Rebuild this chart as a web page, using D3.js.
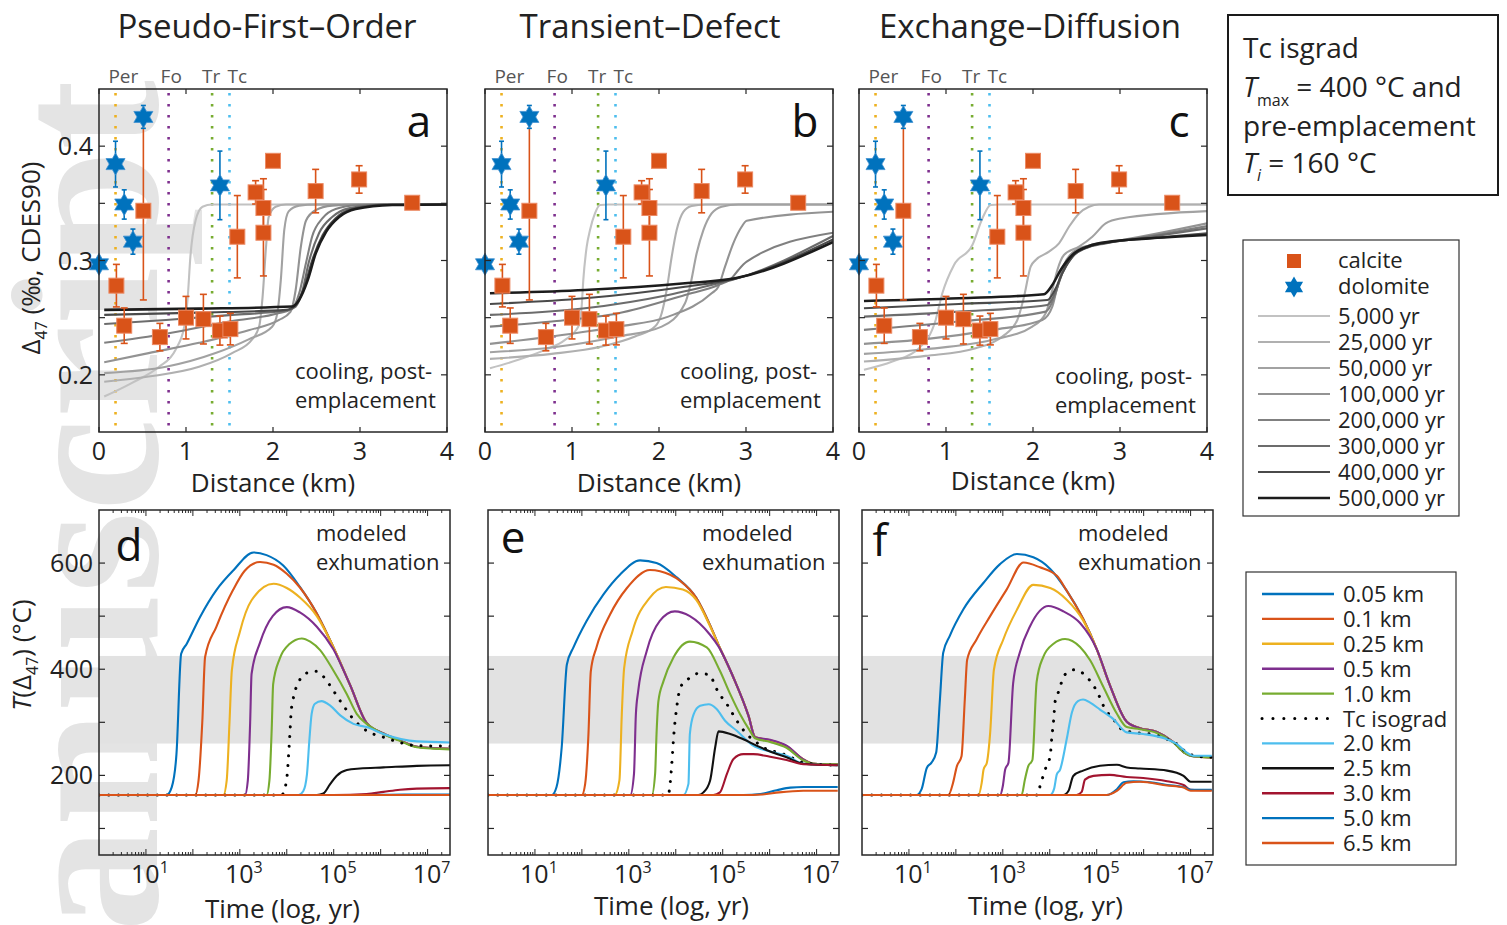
<!DOCTYPE html>
<html><head><meta charset="utf-8">
<script src="https://cdn.jsdelivr.net/npm/d3@7/dist/d3.min.js"></script>
<style>
body{margin:0;background:#fff}
svg{display:block}
text{font-family:"Open Sans","Noto Sans",sans-serif;fill:#222}
</style></head><body>
<svg id="chart" width="1507" height="925"></svg>
<script>
// ---------------- DATA ----------------
const panelTitles = ["Pseudo-First\u2013Order","Transient\u2013Defect","Exchange\u2013Diffusion"];
const topLetters = ["a","b","c"];
const bottomLetters = ["d","e","f"];
const mineralNames = ["Per","Fo","Tr","Tc"];
const mineralKm = [0.19,0.80,1.30,1.50];
const mineralLabelKm = [0.28,0.83,1.29,1.59];
const mineralColors = ["#EDB120","#7E2F8E","#77AC30","#4DBEEE"];

const calciteKm  = [0.20,0.29,0.51,0.70,1.00,1.20,1.39,1.51,1.59,1.80,1.89,1.89,2.00,2.49,2.99,3.60];
const calciteD47 = [0.278,0.243,0.3435,0.233,0.250,0.2487,0.2387,0.240,0.3208,0.3596,0.3459,0.3243,0.3872,0.3607,0.3709,0.3505];
const calciteErr = [0.0186,0.0155,0.078,0.012,0.0186,0.0217,0.0127,0.0138,0.036,0.0102,0.0256,0.0378,0,0.019,0.012,0];
const dolomiteKm  = [0.00,0.19,0.29,0.39,0.51,1.39];
const dolomiteD47 = [0.2967,0.3843,0.349,0.3165,0.4256,0.3657];
const dolomiteErr = [0,0.020,0.0128,0.011,0.010,0.030];

const timeLabels = ["5,000 yr","25,000 yr","50,000 yr","100,000 yr","200,000 yr","300,000 yr","400,000 yr","500,000 yr"];
const timeColors = ["#c2c2c2","#b0b0b0","#a2a2a2","#939393","#808080","#6c6c6c","#4a4a4a","#1c1c1c"];

// [distance km, Δ47] per time, panel a (pseudo-first-order)
const pfoCurves = [
 [[0.06,0.181],[0.38,0.193],[0.69,0.207],[0.88,0.222],[0.98,0.242],[1.02,0.268],[1.05,0.303],[1.11,0.335],[1.19,0.347],[1.30,0.349],[4,0.349]],
 [[0.06,0.194],[0.57,0.1985],[1.15,0.207],[1.53,0.219],[1.76,0.231],[1.84,0.242],[1.88,0.268],[1.92,0.312],[1.95,0.338],[2.03,0.347],[2.15,0.349],[4,0.349]],
 [[0.06,0.2015],[0.77,0.207],[1.34,0.219],[1.72,0.231],[1.99,0.242],[2.05,0.254],[2.09,0.283],[2.13,0.327],[2.18,0.343],[2.30,0.348],[2.49,0.349],[4,0.349]],
 [[0.06,0.211],[0.57,0.219],[1.15,0.228],[1.72,0.239],[2.07,0.248],[2.20,0.255],[2.26,0.274],[2.32,0.312],[2.38,0.335],[2.49,0.344],[2.68,0.348],[2.99,0.349],[4,0.349]],
 [[0.06,0.228],[0.77,0.236],[1.53,0.247],[2.07,0.254],[2.22,0.258],[2.30,0.271],[2.38,0.298],[2.45,0.321],[2.57,0.337],[2.72,0.345],[2.99,0.3485],[3.26,0.349],[4,0.349]],
 [[0.06,0.2445],[0.77,0.248],[1.53,0.2524],[2.15,0.2562],[2.26,0.2597],[2.34,0.274],[2.41,0.298],[2.53,0.324],[2.68,0.338],[2.87,0.3456],[3.26,0.3488],[4,0.349]],
 [[0.06,0.2524],[1.15,0.2544],[2.15,0.2568],[2.26,0.2611],[2.36,0.277],[2.45,0.300],[2.57,0.322],[2.72,0.337],[2.91,0.345],[3.30,0.3488],[4,0.349]],
 [[0.06,0.2568],[1.15,0.2579],[2.22,0.2597],[2.30,0.2655],[2.40,0.283],[2.49,0.306],[2.61,0.325],[2.76,0.338],[2.95,0.345],[3.37,0.3485],[4,0.349]]
];
// panel b (transient-defect)
const tdCurves = [
 [[0.057,0.2058],[0.383,0.2131],[0.69,0.2218],[0.92,0.2306],[1.073,0.2422],[1.111,0.2597],[1.13,0.283],[1.169,0.3121],[1.207,0.3266],[1.264,0.3412],[1.322,0.3485],[1.418,0.349],[4,0.349]],
 [[0.057,0.214],[0.766,0.2183],[1.341,0.2247],[1.724,0.2335],[1.954,0.2422],[2.031,0.2539],[2.088,0.2742],[2.146,0.3033],[2.203,0.3266],[2.28,0.3426],[2.375,0.3476],[2.529,0.349],[4,0.349]],
 [[0.057,0.2198],[0.766,0.2239],[1.533,0.2335],[2.031,0.2422],[2.299,0.2626],[2.356,0.2771],[2.433,0.3063],[2.51,0.3266],[2.605,0.3412],[2.72,0.347],[2.912,0.349],[4,0.349]],
 [[0.057,0.2271],[0.766,0.2335],[1.533,0.2422],[2.107,0.2509],[2.605,0.2713],[2.682,0.2771],[2.759,0.2946],[2.854,0.315],[2.95,0.3295],[3.008,0.3348],[4,0.3426]],
 [[0.057,0.2422],[0.766,0.2466],[1.533,0.2539],[2.299,0.2699],[2.682,0.2786],[2.835,0.2844],[2.912,0.2917],[3.008,0.299],[4,0.3243]],
 [[0.057,0.2524],[1.149,0.2582],[2.107,0.2699],[2.682,0.2801],[2.874,0.2838],[4,0.3214]],
 [[0.057,0.262],[1.149,0.267],[2.299,0.2771],[2.874,0.2841],[4,0.3185]],
 [[0.057,0.2713],[1.149,0.2742],[2.299,0.2801],[2.874,0.2844],[4,0.3162]]
];
// panel c (exchange-diffusion)
const edCurves = [
 [[0.057,0.2044],[0.383,0.2116],[0.69,0.2233],[0.881,0.248],[0.958,0.2713],[1.092,0.2961],[1.303,0.3135],[1.418,0.3368],[1.513,0.3485],[1.609,0.349],[4,0.349]],
 [[0.057,0.2116],[0.766,0.2166],[1.341,0.2233],[1.648,0.2335],[1.82,0.248],[1.897,0.2684],[1.973,0.2946],[2.031,0.3004],[2.184,0.3077],[2.299,0.315],[2.414,0.3295],[2.529,0.3412],[2.644,0.347],[2.759,0.349],[4,0.349]],
 [[0.057,0.2183],[0.766,0.2224],[1.533,0.2306],[1.992,0.2422],[2.146,0.2539],[2.222,0.2742],[2.28,0.2917],[2.356,0.3048],[2.529,0.3121],[2.682,0.3208],[2.835,0.3325],[3.008,0.3368],[4,0.3432]],
 [[0.057,0.2271],[0.766,0.2312],[1.533,0.2393],[2.107,0.248],[2.222,0.2597],[2.28,0.2771],[2.356,0.2961],[2.452,0.3068],[2.644,0.3132],[2.912,0.3164],[4,0.3325]],
 [[0.057,0.2393],[1.149,0.2466],[2.146,0.2553],[2.241,0.267],[2.318,0.2859],[2.414,0.3004],[2.567,0.3098],[2.797,0.315],[3.065,0.3179],[4,0.3301]],
 [[0.057,0.2509],[1.149,0.2553],[2.165,0.2611],[2.261,0.2728],[2.337,0.2888],[2.452,0.3033],[2.605,0.3106],[2.835,0.315],[3.142,0.3185],[4,0.3281]],
 [[0.057,0.2582],[1.149,0.262],[2.165,0.2655],[2.261,0.2757],[2.345,0.2902],[2.471,0.3048],[2.644,0.3121],[2.912,0.3162],[3.295,0.3191],[4,0.3237]],
 [[0.057,0.2646],[1.149,0.267],[2.126,0.2705],[2.222,0.2786],[2.318,0.2917],[2.452,0.3048],[2.644,0.3127],[2.912,0.3167],[3.295,0.3191],[4,0.3223]]
];

const depthLabels = ["0.05 km","0.1 km","0.25 km","0.5 km","1.0 km","Tc isograd","2.0 km","2.5 km","3.0 km","5.0 km","6.5 km"];
const depthColors = ["#0072BD","#D95319","#EDB120","#7E2F8E","#77AC30","#000000","#4DBEEE","#111111","#A2142F","#0072BD","#D95319"];
const bandT = [260,425];

// [log10(time, yr), T(Δ47) °C] per depth, panel d
const pfoT = [
 [[0,163],[1.44,163],[1.55,178],[1.65,240],[1.75,429],[1.87,448],[2.15,498],[2.5,549],[2.86,586],[3.29,620],[3.57,615],[3.93,595],[4.28,555],[4.64,505],[4.99,442],[5.35,370],[5.70,299],[6.06,279],[6.41,266],[6.77,254],[7.48,250]],
 [[0,163],[2.05,163],[2.12,190],[2.2,300],[2.26,423],[2.5,480],[2.86,550],[3.1,585],[3.43,602],[3.72,597],[4.0,580],[4.28,554],[4.64,505],[4.99,442],[5.35,370],[5.70,299],[6.06,279],[6.41,266],[6.77,254],[7.48,250]],
 [[0,163],[2.65,163],[2.72,190],[2.78,300],[2.83,398],[3.0,470],[3.25,530],[3.72,561],[4.0,553],[4.28,535],[4.64,500],[4.99,442],[5.35,370],[5.70,299],[6.06,279],[6.41,266],[6.77,254],[7.48,250]],
 [[0,163],[3.11,163],[3.17,190],[3.22,300],[3.25,391],[3.43,450],[3.7,500],[4.0,517],[4.28,507],[4.64,480],[4.99,438],[5.35,370],[5.70,299],[6.06,279],[6.41,266],[6.77,254],[7.48,250]],
 [[0,163],[3.57,163],[3.63,190],[3.68,290],[3.71,372],[3.85,420],[4.05,447],[4.32,458],[4.5,452],[4.71,436],[4.99,398],[5.28,353],[5.49,316],[5.7,297],[6.06,278],[6.41,265],[6.77,253],[7.48,249]],
 [[0,163],[3.9,163],[3.93,168],[4.01,202],[4.04,240],[4.07,284],[4.09,316],[4.13,341],[4.18,360],[4.27,379],[4.43,393],[4.64,396],[4.82,382],[4.99,360],[5.21,331],[5.42,306],[5.70,284],[6.06,272],[6.41,262],[6.77,256],[7.48,255]],
 [[0,163],[4.25,163],[4.35,170],[4.43,202],[4.48,265],[4.53,316],[4.6,335],[4.74,340],[4.92,332],[5.14,313],[5.42,297],[5.70,291],[6.06,278],[6.77,264],[7.48,262]],
 [[0,163],[4.64,163],[4.78,166],[4.92,183],[5.06,199],[5.28,210],[5.56,213],[6.06,215],[6.77,218],[7.48,219]],
 [[0,163],[5.0,163],[5.7,165],[6.06,169],[6.41,173],[6.77,175],[7.48,176]],
 [[0,163],[5.5,163],[6.5,164],[7.48,164]],
 [[0,163],[7.48,163]]
];
// panel e
const tdT = [
 [[0,163],[1.36,163],[1.46,178],[1.57,253],[1.68,409],[1.82,441],[2.10,491],[2.46,541],[2.81,578],[3.24,605],[3.59,600],[4.02,573],[4.44,534],[4.73,483],[4.91,446],[5.23,384],[5.55,312],[5.69,272],[6.01,265],[6.36,254],[6.72,229],[6.93,222],[7.45,221]],
 [[0,163],[2.0,163],[2.07,184],[2.14,278],[2.19,396],[2.31,441],[2.6,503],[2.96,553],[3.45,587],[3.88,578],[4.1,566],[4.44,534],[4.73,483],[4.91,446],[5.23,384],[5.55,312],[5.69,272],[6.01,266],[6.36,255],[6.72,230],[6.93,222],[7.45,221]],
 [[0,163],[2.7,163],[2.8,191],[2.85,315],[2.9,402],[3.08,472],[3.44,534],[3.79,555],[4.15,550],[4.44,530],[4.73,481],[4.91,446],[5.23,384],[5.55,312],[5.69,272],[6.01,266],[6.36,255],[6.72,230],[6.93,222],[7.45,221]],
 [[0,163],[3.03,163],[3.11,203],[3.15,315],[3.2,359],[3.38,434],[3.66,491],[3.98,509],[4.3,500],[4.73,465],[4.91,443],[5.23,384],[5.55,312],[5.69,272],[6.01,267],[6.36,256],[6.72,230],[6.93,222],[7.45,221]],
 [[0,163],[3.49,163],[3.56,203],[3.59,278],[3.63,340],[3.74,378],[3.95,422],[4.3,452],[4.66,441],[4.94,397],[5.16,353],[5.37,315],[5.58,284],[5.69,270],[6.01,263],[6.36,252],[6.72,228],[6.93,222],[7.45,221]],
 [[0,163],[3.84,163],[3.86,170],[3.91,215],[3.96,278],[4.02,328],[4.1,366],[4.27,382],[4.48,392],[4.7,390],[4.91,356],[5.09,334],[5.3,303],[5.51,278],[5.72,262],[5.94,249],[6.15,244],[6.36,238],[6.72,224],[7.45,219]],
 [[0,163],[4.16,163],[4.27,184],[4.3,278],[4.38,315],[4.52,331],[4.7,334],[4.87,325],[5.05,303],[5.3,284],[5.65,256],[6.01,245],[6.36,237],[6.72,222],[7.45,219]],
 [[0,163],[4.48,163],[4.59,168],[4.73,190],[4.84,253],[4.91,283],[5.16,278],[5.44,268],[5.72,256],[6.01,245],[6.36,234],[6.72,222],[7.45,219]],
 [[0,163],[4.8,163],[4.94,168],[5.09,203],[5.23,231],[5.44,240],[5.65,240],[6.01,235],[6.36,229],[6.72,221],[7.45,219]],
 [[0,163],[5.44,163],[5.8,165],[6.15,172],[6.44,177],[6.72,178],[7.45,178]],
 [[0,163],[5.44,163],[5.85,164],[6.2,168],[6.72,171],[7.45,171]]
];
// panel f
const edT = [
 [[0,163],[1.16,163],[1.27,174],[1.38,214],[1.48,224],[1.58,243],[1.66,343],[1.73,431],[1.87,463],[2.16,513],[2.59,563],[2.94,598],[3.30,617],[3.65,611],[4.01,589],[4.36,548],[4.71,495],[5.0,438],[5.28,370],[5.64,301],[5.92,289],[6.28,282],[6.63,263],[6.85,244],[7.06,236],[7.45,235]],
 [[0,163],[1.84,163],[1.94,186],[2.02,217],[2.12,236],[2.19,343],[2.24,418],[2.44,456],[2.73,500],[3.08,550],[3.44,601],[3.79,592],[4.15,576],[4.36,548],[4.71,495],[5.0,438],[5.28,370],[5.64,301],[5.92,289],[6.28,282],[6.63,263],[6.85,244],[7.06,236],[7.45,234]],
 [[0,163],[2.48,163],[2.55,186],[2.59,211],[2.66,224],[2.73,280],[2.81,399],[3.01,456],[3.30,512],[3.65,559],[4.01,553],[4.36,531],[4.71,492],[5.0,438],[5.28,370],[5.64,301],[5.92,289],[6.28,282],[6.63,263],[6.85,244],[7.06,236],[7.45,234]],
 [[0,163],[2.94,163],[3.0,180],[3.05,211],[3.12,224],[3.22,374],[3.36,431],[3.58,481],[3.97,519],[4.29,509],[4.645,487],[5.0,438],[5.28,370],[5.64,301],[5.92,289],[6.28,282],[6.63,263],[6.85,244],[7.06,236],[7.45,234]],
 [[0,163],[3.4,163],[3.47,192],[3.54,217],[3.63,229],[3.72,376],[3.86,423],[4.08,448],[4.325,457],[4.645,442],[4.86,417],[5.14,367],[5.43,316],[5.64,291],[5.92,287],[6.28,280],[6.63,262],[6.85,244],[7.06,236],[7.45,234]],
 [[0,163],[3.75,163],[3.79,179],[3.86,199],[3.93,218],[4.01,237],[4.04,268],[4.09,312],[4.11,337],[4.18,356],[4.325,390],[4.52,399],[4.71,392],[4.86,378],[5.0,359],[5.18,325],[5.355,306],[5.53,287],[5.78,281],[6.14,278],[6.5,268],[6.71,259],[6.92,243],[7.13,236],[7.45,234]],
 [[0,163],[4.01,163],[4.09,174],[4.15,202],[4.22,211],[4.36,268],[4.47,318],[4.6,340],[4.71,343],[4.86,337],[5.07,324],[5.355,306],[5.64,281],[5.99,278],[6.5,268],[6.71,259],[6.92,243],[7.06,237],[7.45,237]],
 [[0,163],[4.29,163],[4.4,171],[4.5,199],[4.71,209],[5.07,218],[5.43,220],[5.64,215],[5.92,213],[6.5,209],[6.85,199],[7.0,188],[7.45,188]],
 [[0,163],[4.57,163],[4.68,169],[4.75,192],[4.93,199],[5.28,201],[5.64,197],[5.99,195],[6.5,189],[6.85,182],[7.0,173],[7.45,172]],
 [[0,163],[5.21,163],[5.43,174],[5.57,187],[5.78,189],[6.14,187],[6.5,182],[6.85,178],[7.0,173],[7.45,173]],
 [[0,163],[5.21,163],[5.43,171],[5.64,186],[5.92,188],[6.5,181],[6.85,177],[7.0,171],[7.45,171]]
];

const distTicks = [0,1,2,3,4];
const d47Ticks = [0.2,0.25,0.3,0.35,0.4];
const d47Labels = [0.2,0.3,0.4];
const tempTicks = [100,200,300,400,500,600];
const tempLabels = [200,400,600];
const decadeLabels = [1,3,5,7];

// ---------------- DRAWING ----------------
const svg = d3.select("#chart");
const ink = "#262626";

// watermark
svg.append("text").attr("transform","translate(157,80) rotate(-90)")
  .attr("text-anchor","end")
  .style("font-family",'"Liberation Serif","DejaVu Serif",serif')
  .style("font-weight","bold").style("font-size","210px").style("fill","#e4e4e4")
  .text("Author Manuscript");

function hexagram(r){
  const pts=[];
  for(let k=0;k<12;k++){
    const a=(-90+k*30)*Math.PI/180, rr=(k%2===0)?r:r/Math.sqrt(3);
    pts.push([rr*Math.cos(a), rr*Math.sin(a)]);
  }
  return "M"+pts.map(p=>p[0].toFixed(2)+","+p[1].toFixed(2)).join("L")+"Z";
}

const topX0=[99,485,859], topW=348, topY0=89, topY1=432;
const titleX=[267,650,1030];
const annotLeft=[295,680,1055], annotBase=[379,379,384];

function drawTop(i, curves){
  const x0=topX0[i];
  const x=d3.scaleLinear().domain([0,4]).range([x0,x0+topW]);
  const y=d3.scaleLinear().domain([0.15,0.45]).range([topY1,topY0]);
  const g=svg.append("g");
  const cid="clipT"+i;
  svg.append("clipPath").attr("id",cid).append("rect")
    .attr("x",x0).attr("y",topY0).attr("width",topW).attr("height",topY1-topY0);
  const pg=g.append("g").attr("clip-path",`url(#${cid})`);
  mineralKm.forEach((k,j)=>{
    pg.append("line").attr("x1",x(k)).attr("x2",x(k)).attr("y1",topY0+4).attr("y2",topY1)
      .attr("stroke",mineralColors[j]).attr("stroke-width",2.6).attr("stroke-dasharray","2.6,8.4");
  });
  const line=d3.line().x(d=>x(d[0])).y(d=>y(d[1])).curve(d3.curveMonotoneX);
  curves.forEach((c,j)=>{
    pg.append("path").attr("d",line(c)).attr("fill","none")
      .attr("stroke",timeColors[j]).attr("stroke-width",j===7?2.6:2.1);
  });
  const cal="#D95319", dol="#0072BD";
  calciteKm.forEach((k,j)=>{
    const e=calciteErr[j]; if(!e) return;
    const cx=x(k), ya=y(calciteD47[j]-e), yb=y(calciteD47[j]+e);
    g.append("line").attr("x1",cx).attr("x2",cx).attr("y1",ya).attr("y2",yb).attr("stroke",cal).attr("stroke-width",1.6);
    [ya,yb].forEach(yy=>g.append("line").attr("x1",cx-3.5).attr("x2",cx+3.5).attr("y1",yy).attr("y2",yy).attr("stroke",cal).attr("stroke-width",1.6));
  });
  dolomiteKm.forEach((k,j)=>{
    const e=dolomiteErr[j]; if(!e) return;
    const cx=x(k), ya=y(dolomiteD47[j]-e), yb=y(dolomiteD47[j]+e);
    g.append("line").attr("x1",cx).attr("x2",cx).attr("y1",ya).attr("y2",yb).attr("stroke",dol).attr("stroke-width",1.6);
    [ya,yb].forEach(yy=>g.append("line").attr("x1",cx-2.5).attr("x2",cx+2.5).attr("y1",yy).attr("y2",yy).attr("stroke",dol).attr("stroke-width",1.6));
  });
  calciteKm.forEach((k,j)=>{
    g.append("rect").attr("x",x(k)-7.5).attr("y",y(calciteD47[j])-7.5).attr("width",15).attr("height",15)
      .attr("fill",cal).attr("stroke","#EC8A64").attr("stroke-width",1);
  });
  dolomiteKm.forEach((k,j)=>{
    g.append("path").attr("d",hexagram(11)).attr("transform",`translate(${x(k)},${y(dolomiteD47[j])})`)
      .attr("fill",dol).attr("stroke","#3D8FD0").attr("stroke-width",0.8);
  });
  g.append("rect").attr("x",x0).attr("y",topY0).attr("width",topW).attr("height",topY1-topY0)
    .attr("fill","none").attr("stroke",ink).attr("stroke-width",1.5);
  distTicks.forEach(v=>{
    g.append("line").attr("x1",x(v)).attr("x2",x(v)).attr("y1",topY1).attr("y2",topY1-5).attr("stroke",ink).attr("stroke-width",1.2);
    g.append("line").attr("x1",x(v)).attr("x2",x(v)).attr("y1",topY0).attr("y2",topY0+5).attr("stroke",ink).attr("stroke-width",1.2);
    g.append("text").attr("x",x(v)).attr("y",topY1+28).attr("text-anchor","middle").style("font-size","25px").text(v);
  });
  d47Ticks.forEach(v=>{
    g.append("line").attr("x1",x0).attr("x2",x0+6).attr("y1",y(v)).attr("y2",y(v)).attr("stroke",ink).attr("stroke-width",1.2);
    g.append("line").attr("x1",x0+topW).attr("x2",x0+topW-6).attr("y1",y(v)).attr("y2",y(v)).attr("stroke",ink).attr("stroke-width",1.2);
  });
  if(i===0){
    d47Labels.forEach(v=>{
      g.append("text").attr("x",x0-6).attr("y",y(v)).attr("dy","0.36em").attr("text-anchor","end")
        .style("font-size","25px").text(v.toFixed(1));
    });
  }
  mineralNames.forEach((n,j)=>{
    g.append("text").attr("x",x(mineralLabelKm[j])).attr("y",83).attr("text-anchor","middle")
      .style("font-size","19px").style("fill","#555").text(n);
  });
  g.append("text").attr("x",titleX[i]).attr("y",38).attr("text-anchor","middle").style("font-size","33px").text(panelTitles[i]);
  g.append("text").attr("x",x0+topW-28).attr("y",137).attr("text-anchor","middle").style("font-size","44px").style("fill","#111").text(topLetters[i]);
  g.append("text").attr("x",annotLeft[i]).attr("y",annotBase[i]).style("font-size","22px").text("cooling, post-");
  g.append("text").attr("x",annotLeft[i]).attr("y",annotBase[i]+29).style("font-size","22px").text("emplacement");
  g.append("text").attr("x",x0+topW/2).attr("y",i===2?490:492).attr("text-anchor","middle").style("font-size","26px").text("Distance (km)");
}
drawTop(0,pfoCurves); drawTop(1,tdCurves); drawTop(2,edCurves);

{
  const t=svg.append("text").attr("transform","translate(40,258) rotate(-90)").attr("text-anchor","middle").style("font-size","26px");
  t.append("tspan").text("\u0394");
  t.append("tspan").attr("dy",7).style("font-size","16px").text("47");
  t.append("tspan").attr("dy",-7).text(" (\u2030, CDES90)");
}

const botX0=[99,488,862], botW=351, botY0=510, botY1=855;
const modLeft=[316,702,1078];
const letterPos=[[129,561],[513,553],[880,556]];
function drawBottom(i, curves){
  const x0=botX0[i];
  const x=d3.scaleLog().domain([1,3e7]).range([x0,x0+botW]);
  const y=d3.scaleLinear().domain([50,700]).range([botY1,botY0]);
  const g=svg.append("g");
  const cid="clipB"+i;
  svg.append("clipPath").attr("id",cid).append("rect")
    .attr("x",x0).attr("y",botY0).attr("width",botW).attr("height",botY1-botY0);
  const pg=g.append("g").attr("clip-path",`url(#${cid})`);
  pg.append("rect").attr("x",x0).attr("width",botW).attr("y",y(bandT[1])).attr("height",y(bandT[0])-y(bandT[1]))
    .attr("fill","#e2e2e2");
  const line=d3.line().x(d=>x(Math.pow(10,d[0]))).y(d=>y(d[1])).curve(d3.curveMonotoneX);
  curves.forEach((c,j)=>{
    const p=pg.append("path").attr("d",line(c)).attr("fill","none").attr("stroke",depthColors[j]);
    if(j===5) p.attr("stroke-width",3).attr("stroke-dasharray","0.1,9.6").attr("stroke-linecap","round");
    else p.attr("stroke-width",2.1);
  });
  g.append("rect").attr("x",x0).attr("y",botY0).attr("width",botW).attr("height",botY1-botY0)
    .attr("fill","none").attr("stroke",ink).attr("stroke-width",1.5);
  for(let k=0;k<=7;k++){
    for(let m=1;m<=9;m++){
      const v=m*Math.pow(10,k);
      if(v<=1||v>=3e7) continue;
      const len=(m===1)?6:3;
      const xv=x(v);
      g.append("line").attr("x1",xv).attr("x2",xv).attr("y1",botY1).attr("y2",botY1-len).attr("stroke",ink).attr("stroke-width",1);
      g.append("line").attr("x1",xv).attr("x2",xv).attr("y1",botY0).attr("y2",botY0+len).attr("stroke",ink).attr("stroke-width",1);
    }
  }
  decadeLabels.forEach(k=>{
    const t=g.append("text").attr("x",x(Math.pow(10,k))+4).attr("y",botY1+28).attr("text-anchor","middle").style("font-size","25px");
    t.append("tspan").text("10");
    t.append("tspan").attr("dy",-10).style("font-size","16px").text(k);
  });
  tempTicks.forEach(v=>{
    g.append("line").attr("x1",x0).attr("x2",x0+6).attr("y1",y(v)).attr("y2",y(v)).attr("stroke",ink).attr("stroke-width",1.2);
    g.append("line").attr("x1",x0+botW).attr("x2",x0+botW-6).attr("y1",y(v)).attr("y2",y(v)).attr("stroke",ink).attr("stroke-width",1.2);
  });
  if(i===0){
    tempLabels.forEach(v=>{
      g.append("text").attr("x",x0-6).attr("y",y(v)).attr("dy","0.36em").attr("text-anchor","end").style("font-size","25px").text(v);
    });
  }
  g.append("text").attr("x",letterPos[i][0]).attr("y",letterPos[i][1]).attr("text-anchor","middle").style("font-size","44px").style("fill","#111").text(bottomLetters[i]);
  g.append("text").attr("x",modLeft[i]).attr("y",541).style("font-size","22px").text("modeled");
  g.append("text").attr("x",modLeft[i]).attr("y",570).style("font-size","22px").text("exhumation");
  g.append("text").attr("x",x0+botW/2+8).attr("y",i===0?918:915).attr("text-anchor","middle").style("font-size","26px").text("Time (log, yr)");
}
drawBottom(0,pfoT); drawBottom(1,tdT); drawBottom(2,edT);

{
  const t=svg.append("text").attr("transform","translate(31,655) rotate(-90)").attr("text-anchor","middle").style("font-size","26px");
  t.append("tspan").style("font-style","italic").text("T");
  t.append("tspan").text("(\u0394");
  t.append("tspan").attr("dy",7).style("font-size","16px").text("47");
  t.append("tspan").attr("dy",-7).text(") (\u00B0C)");
}

// text box
{
  svg.append("rect").attr("x",1228).attr("y",15).attr("width",270).attr("height",180)
    .attr("fill","#fff").attr("stroke","#1a1a1a").attr("stroke-width",2);
  const fs="28px";
  svg.append("text").attr("x",1243).attr("y",58).style("font-size",fs).text("Tc isgrad");
  const t2=svg.append("text").attr("x",1243).attr("y",97).style("font-size",fs);
  t2.append("tspan").style("font-style","italic").text("T");
  t2.append("tspan").attr("dy",9).style("font-size","16px").text("max");
  t2.append("tspan").attr("dy",-9).text(" = 400 \u00B0C and");
  svg.append("text").attr("x",1243).attr("y",136).style("font-size",fs).text("pre-emplacement");
  const t4=svg.append("text").attr("x",1243).attr("y",173).style("font-size",fs);
  t4.append("tspan").style("font-style","italic").text("T");
  t4.append("tspan").attr("dy",8).style("font-size","16px").style("font-style","italic").text("i");
  t4.append("tspan").attr("dy",-8).text(" = 160 \u00B0C");
}

// legend 1
{
  const g=svg.append("g");
  g.append("rect").attr("x",1243).attr("y",240).attr("width",216).attr("height",276)
    .attr("fill","#fff").attr("stroke","#333").attr("stroke-width",1.2);
  g.append("rect").attr("x",1287).attr("y",254).attr("width",14).attr("height",14).attr("fill","#D95319");
  g.append("text").attr("x",1338).attr("y",268).style("font-size","22px").text("calcite");
  g.append("path").attr("d",hexagram(10.5)).attr("transform","translate(1294,287)").attr("fill","#0072BD");
  g.append("text").attr("x",1338).attr("y",294).style("font-size","22px").text("dolomite");
  timeLabels.forEach((l,j)=>{
    const yy=316+26*j;
    g.append("line").attr("x1",1258).attr("x2",1330).attr("y1",yy).attr("y2",yy)
      .attr("stroke",timeColors[j]).attr("stroke-width",j===7?2.6:2.1);
    g.append("text").attr("x",1338).attr("y",yy+8).style("font-size","22px").text(l);
  });
}
// legend 2
{
  const g=svg.append("g");
  g.append("rect").attr("x",1246).attr("y",572).attr("width",210).attr("height",293)
    .attr("fill","#fff").attr("stroke","#333").attr("stroke-width",1.2);
  depthLabels.forEach((l,j)=>{
    const yy=594+24.9*j;
    const ln=g.append("line").attr("x1",1262).attr("x2",j===5?1328:1334).attr("y1",yy).attr("y2",yy).attr("stroke",depthColors[j]);
    if(j===5) ln.attr("stroke-width",3).attr("stroke-dasharray","0.1,10.8").attr("stroke-linecap","round");
    else ln.attr("stroke-width",2.4);
    g.append("text").attr("x",1343).attr("y",yy+8).style("font-size","22px").text(l);
  });
}
</script>
</body></html>
